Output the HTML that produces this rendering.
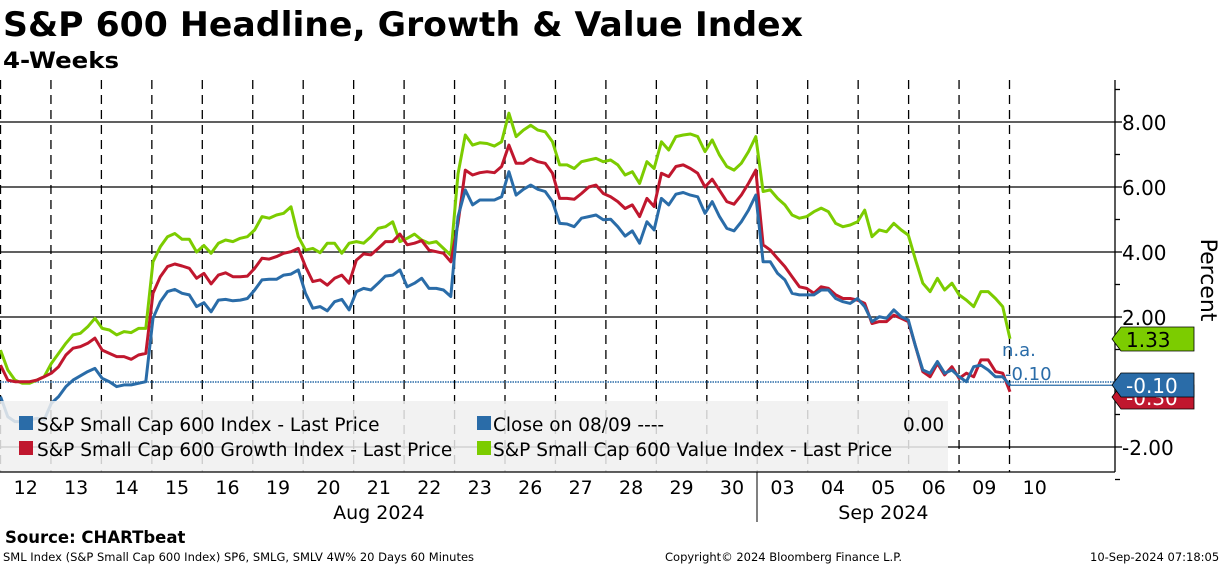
<!DOCTYPE html>
<html><head><meta charset="utf-8"><style>
body{margin:0;background:#fff;width:1224px;height:566px;overflow:hidden;font-family:"Liberation Sans",sans-serif}
svg{position:absolute;left:0;top:0}
</style></head><body>
<svg id="c" width="1224" height="566" font-family="DejaVu Sans, Liberation Sans, sans-serif">
<text x="3" y="36" font-size="34" font-weight="bold" textLength="800" lengthAdjust="spacingAndGlyphs" font-family="DejaVu Sans, sans-serif">S&amp;P 600 Headline, Growth &amp; Value Index</text>
<text x="3" y="68" font-size="22" font-weight="bold" textLength="116" lengthAdjust="spacingAndGlyphs" font-family="DejaVu Sans, sans-serif">4-Weeks</text>
<g id="grid"></g>
<g id="vgrid"></g>
<g id="series"></g>
<rect x="0" y="401" width="948" height="71" fill="#f0f0f0" fill-opacity="0.85"/>
<g id="axis"></g>
<g font-size="18.5" fill="#000">
<g><rect x="19" y="416" width="14" height="14" fill="#2a6ca8"/><text x="37" y="431">S&amp;P Small Cap 600 Index - Last Price</text></g>
<g><rect x="477" y="416" width="14" height="14" fill="#2a6ca8"/><text x="493" y="431">Close on 08/09 ----</text><text x="903" y="431">0.00</text></g>
<g><rect x="19" y="441" width="14" height="14" fill="#c0172e"/><text x="37" y="456">S&amp;P Small Cap 600 Growth Index - Last Price</text></g>
<g><rect x="477" y="441" width="14" height="14" fill="#7ccc00"/><text x="493" y="456">S&amp;P Small Cap 600 Value Index - Last Price</text></g>
</g>
<text x="5" y="543" font-size="16.5" font-weight="bold">Source: CHARTbeat</text>
<text x="3" y="561" font-size="11.5">SML Index (S&amp;P Small Cap 600 Index) SP6, SMLG, SMLV 4W% 20 Days 60 Minutes</text>
<text x="665" y="561" font-size="11.5">Copyright© 2024 Bloomberg Finance L.P.</text>
<text x="1090" y="561" font-size="11.5">10-Sep-2024 07:18:05</text>
</svg>
<script>
const days=["12","13","14","15","16","19","20","21","22","23","26","27","28","29","30","03","04","05","06","09","10"];
const yTicks=[8,6,4,2,0,-2];
const yTickLabels=["8.00","6.00","4.00","2.00","","-2.00"];
const indexVals=[-0.45,-1.07,-1.22,-1.22,-1.17,-1.12,-1.17, -0.66,-0.45,-0.14,0.06,0.19,0.32,0.42, 0.11,0.01,-0.14,-0.09,-0.09,-0.04,0.01, 1.96,2.47,2.78,2.85,2.73,2.68,2.32, 2.44,2.16,2.52,2.54,2.5,2.52,2.57, 2.83,3.14,3.16,3.16,3.29,3.32,3.45, 2.73,2.27,2.32,2.19,2.47,2.54,2.22, 2.78,2.88,2.83,3.04,3.26,3.29,3.45, 2.93,3.04,3.19,2.88,2.88,2.83,2.63, 5.09,5.91,5.45,5.6,5.6,5.6,5.7, 6.47,5.75,5.93,6.06,5.93,5.86,5.55, 4.88,4.86,4.78,5.04,5.09,5.14,4.99, 5.01,4.78,4.49,4.65,4.27,4.93,4.68, 5.65,5.45,5.78,5.83,5.75,5.7,5.19, 5.55,5.09,4.73,4.65,4.93,5.29,5.75, 3.7,3.7,3.34,3.14,2.73,2.68,2.68, 2.68,2.83,2.83,2.57,2.47,2.42,2.57, 2.32,1.86,2.01,1.96,2.22,2.01,1.91, 1.09,0.37,0.27,0.63,0.27,0.37,0.16, 0.01,0.47,0.52,0.37,0.16,0.16,-0.1];
const growthVals=[0.52,0.06,0.01,0.01,0.01,0.06,0.16, 0.27,0.47,0.83,1.04,1.09,1.19,1.35, 0.98,0.88,0.78,0.78,0.7,0.83,0.88, 2.73,3.24,3.55,3.63,3.57,3.5,3.19, 3.34,3.02,3.29,3.36,3.24,3.24,3.26, 3.5,3.81,3.78,3.86,3.96,4.01,4.11, 3.55,3.09,3.14,2.98,3.19,3.29,3.04, 3.75,3.94,3.91,4.11,4.32,4.32,4.55, 4.22,4.27,4.35,4.06,4.01,3.96,3.7, 4.88,6.52,6.37,6.44,6.47,6.44,6.63, 7.29,6.73,6.73,6.88,6.78,6.73,6.42, 5.65,5.65,5.62,5.8,6.0,6.06,5.8, 5.7,5.55,5.34,5.45,5.09,5.65,5.4, 6.42,6.32,6.63,6.68,6.57,6.42,6.0, 6.24,5.9,5.55,5.47,5.75,6.11,6.52, 4.22,4.06,3.8,3.55,3.24,2.93,2.88, 2.73,2.93,2.88,2.68,2.57,2.57,2.52, 2.42,1.8,1.86,1.86,2.06,1.96,1.86, 1.09,0.32,0.16,0.57,0.22,0.47,0.11, 0.27,0.16,0.68,0.68,0.32,0.27,-0.3];
const valueVals=[0.98,0.37,0.06,-0.04,-0.04,0.06,0.16, 0.57,0.88,1.19,1.45,1.5,1.7,1.96, 1.65,1.6,1.45,1.55,1.52,1.65,1.65, 3.7,4.16,4.47,4.57,4.39,4.39,4.0, 4.2,3.96,4.27,4.37,4.32,4.42,4.47, 4.68,5.09,5.04,5.14,5.19,5.39,4.47, 4.06,4.11,3.98,4.27,4.27,3.96,4.27, 4.32,4.27,4.47,4.73,4.78,4.93,4.32, 4.42,4.55,4.37,4.27,4.32,4.11,3.9, 6.4,7.6,7.29,7.36,7.34,7.26,7.39, 8.27,7.55,7.75,7.9,7.75,7.7,7.39, 6.68,6.68,6.57,6.78,6.83,6.88,6.78, 6.83,6.68,6.37,6.47,6.11,6.78,6.57, 7.39,7.14,7.55,7.6,7.63,7.55,7.09, 7.45,6.98,6.63,6.52,6.73,7.09,7.55, 5.86,5.91,5.65,5.45,5.14,5.04,5.09, 5.24,5.35,5.24,4.88,4.78,4.83,4.93, 5.29,4.47,4.68,4.62,4.88,4.68,4.52, 3.75,3.04,2.78,3.19,2.83,3.04,2.68, 2.52,2.32,2.78,2.78,2.57,2.32,1.33];
const closeVal=0;
const NS="http://www.w3.org/2000/svg";
const y=v=>382-v*32.5;
const dayW=50.45;
const x=i=>0.5+i*(1009.5/(indexVals.length-1));
const dx=d=>0.5+d*dayW;
function mk(t,a,p){const e=document.createElementNS(NS,t);for(const k in a)e.setAttribute(k,a[k]);p.appendChild(e);return e;}
const grid=document.getElementById('grid'),vg=document.getElementById('vgrid'),ser=document.getElementById('series'),ax=document.getElementById('axis');
yTicks.forEach((t,i)=>{if(t===0)return;const l=mk('line',{x1:0,x2:1115,y1:y(t),y2:y(t),stroke:'#000','stroke-width':1.3},grid);

});
for(let d=0;d<days.length;d++){const l=mk('line',{x1:dx(d),x2:dx(d),y1:80,y2:472,stroke:'#000','stroke-width':1.3,'stroke-dasharray':'9,6'},vg);

}
const cl=mk('line',{x1:0,x2:1115,y1:y(closeVal),y2:y(closeVal),stroke:'#2a6ca8','stroke-width':1.6,'stroke-dasharray':'1.5,1'},ser);


const hl=mk('line',{x1:x(indexVals.length-1),x2:1115,y1:y(indexVals[indexVals.length-1]),y2:y(indexVals[indexVals.length-1]),stroke:'#2a6ca8','stroke-width':1.2},ser);


function line(vals,col,name){const p=mk('polyline',{points:vals.map((v,i)=>x(i).toFixed(1)+','+y(v).toFixed(1)).join(' '),fill:'none',stroke:col,'stroke-width':3,'stroke-linejoin':'round'},ser);

}
line(valueVals,'#7ccc00','value-index-line');
line(growthVals,'#c0172e','growth-index-line');
line(indexVals,'#2a6ca8','index-line');
mk('line',{x1:1115,x2:1115,y1:80,y2:472,stroke:'#000','stroke-width':1.3},ax);
mk('line',{x1:0,x2:1115,y1:472,y2:472,stroke:'#000','stroke-width':1.3},ax);
mk('line',{x1:757,x2:757,y1:472,y2:522,stroke:'#000','stroke-width':1},ax);
for(let v=-3;v<=9;v++){mk('line',{x1:1115,x2:v%2===0?1122:1120,y1:y(v),y2:y(v),stroke:'#000','stroke-width':1.3},ax);}
yTicks.forEach((t,i)=>{if(!yTickLabels[i])return;const tx=mk('text',{x:1122,y:y(t)+8,'font-size':20},ax);tx.textContent=yTickLabels[i];

});
days.forEach((d,i)=>{const tx=mk('text',{x:dx(i)+dayW/2,y:494,'font-size':19,'text-anchor':'middle'},ax);tx.textContent=d;

});
[['Aug 2024',dx(7)+dayW/2],['Sep 2024',dx(17)+dayW/2]].forEach(m=>{const tx=mk('text',{x:m[1],y:519,'font-size':19,'text-anchor':'middle'},ax);tx.textContent=m[0];

});
const yt=mk('text',{x:0,y:0,'font-size':22,transform:'translate(1201,280) rotate(90)','text-anchor':'middle'},ax);yt.textContent='Percent';


function tag(v,col,name,ty){const yy=ty;const g=mk('g',{},ax);


mk('path',{d:`M1112 ${yy} L1121 ${yy-12} L1194 ${yy-12} L1194 ${yy+12} L1121 ${yy+12} Z`,fill:col,stroke:'#000','stroke-width':0.8},g);
const t=mk('text',{x:1126,y:yy+8,'font-size':20,fill:name==='value-tag'?'#000':'#fff'},g);t.textContent=v.toFixed(2);}
tag(growthVals[growthVals.length-1],'#c0172e','growth-tag',397);
tag(indexVals[indexVals.length-1],'#2a6ca8','index-tag',385);
tag(valueVals[valueVals.length-1],'#7ccc00','value-tag',339);
const na=mk('text',{x:1002,y:356,'font-size':18,fill:'#2a6ca8'},ax);na.textContent='n.a.';


const cv=mk('text',{x:1005,y:380,'font-size':18,fill:'#2a6ca8'},ax);cv.textContent=indexVals[indexVals.length-1].toFixed(2);


</script>
</body></html>
